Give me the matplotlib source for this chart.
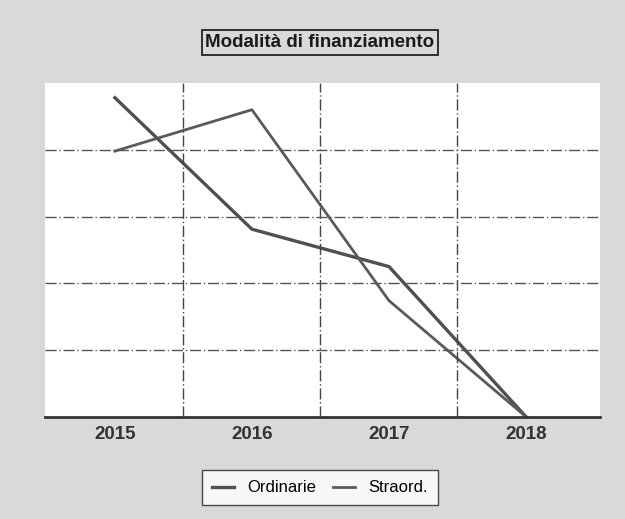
import matplotlib.pyplot as plt

anni = ["2015", "2016", "2017", "2018"]
ordinarie = [4.78, 2.81, 2.25, 0.0]
straord = [3.98, 4.6, 1.74, 0.0]

plt.rcParams["font.family"] = ["Liberation Sans", "DejaVu Sans"]

fig = plt.figure(figsize=(6.25, 5.19), dpi=100, facecolor="#d9d9d9")
ax = fig.add_axes([0.072, 0.197, 0.888, 0.643])
ax.set_facecolor("white")

x = range(len(anni))
ax.plot(x, ordinarie, color="#505050", linewidth=2.4, label="Ordinarie")
ax.plot(x, straord, color="#5a5a5a", linewidth=2.0, label="Straord.")

ax.set_xlim(-0.51, 3.54)
ax.set_ylim(0, 5)
ax.set_xticks(list(x))
ax.set_xticklabels(anni, fontsize=13.5, fontweight="bold", color="#333333")
ax.set_yticks([1, 2, 3, 4])
ax.set_yticklabels([])
ax.tick_params(length=0, pad=7)

for xv in [0.5, 1.5, 2.5]:
    ax.axvline(xv, color="#444444", linewidth=1.0, linestyle=(0, (8, 2, 1, 2)))
for yv in [1, 2, 3, 4]:
    ax.axhline(yv, color="#555555", linewidth=1.0, linestyle=(0, (8, 2, 1, 2)))

for side in ["top", "right", "left"]:
    ax.spines[side].set_visible(False)
ax.spines["bottom"].set_color("#333333")
ax.spines["bottom"].set_linewidth(2)

fig.text(0.512, 0.918, "Modalità di finanziamento", ha="center", va="center",
         fontsize=13.5, fontweight="bold", color="#1a1a1a",
         bbox=dict(boxstyle="square,pad=0.2", facecolor="#d9d9d9",
                   edgecolor="#222222", linewidth=1.3))

fig.legend(loc="center", bbox_to_anchor=(0.512, 0.06), ncol=2,
           frameon=True, fancybox=False, edgecolor="#222222",
           facecolor="white", fontsize=12, handlelength=1.3,
           handletextpad=0.8, columnspacing=1.0, borderpad=0.6,
           borderaxespad=0.8)

fig.savefig("out.png", dpi=100, facecolor=fig.get_facecolor())
